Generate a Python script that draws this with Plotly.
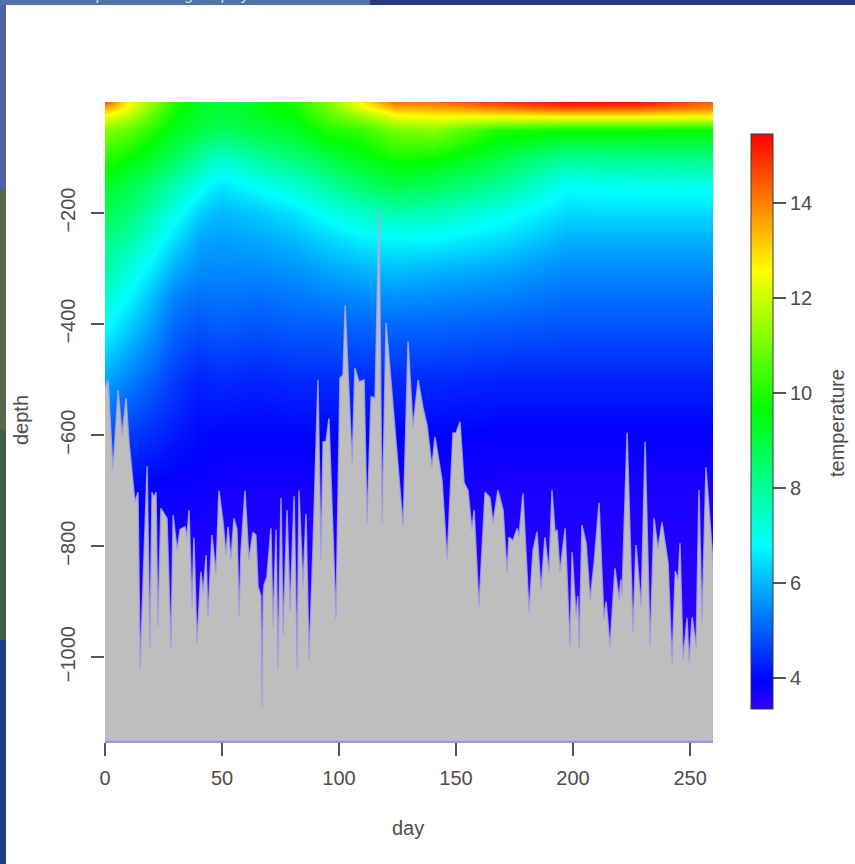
import plotly.graph_objects as go

# temperature field
grid_days = [0, 10, 20, 30, 40, 45, 50, 57, 65, 81, 95, 110, 124, 140, 169, 197, 226, 260]
grid_depths = [0, -10, -25, -50, -100, -150, -200, -250, -300, -350, -400, -500, -600, -700, -900, -1151]
temp_d0 = [14.5, 13.5, 12.5, 11.2, 10.2, 9.3, 8.8, 8.2, 7.8, 7.3, 6.9, 5.8, 4.9, 4.3, 3.6, 3.35]
temp_d10 = [12.6, 12.4, 11.8, 10.8, 9.7, 8.9, 8.4, 7.8, 7.2, 6.8, 6.3, 5.4, 4.6, 4.0, 3.5, 3.35]
temp_d20 = [11.3, 11.1, 10.7, 10.1, 9.2, 8.4, 7.7, 7.1, 6.6, 6.1, 5.7, 5.0, 4.4, 3.9, 3.5, 3.35]
temp_d30 = [10.0, 9.9, 9.7, 9.4, 8.6, 7.7, 7.0, 6.4, 5.9, 5.4, 5.1, 4.6, 4.2, 3.8, 3.5, 3.35]
temp_d40 = [9.3, 9.3, 9.2, 9.0, 8.0, 7.0, 6.3, 5.8, 5.5, 5.2, 4.9, 4.3, 4.0, 3.8, 3.5, 3.35]
temp_d45 = [9.2, 9.2, 9.1, 8.8, 7.6, 6.7, 6.1, 5.75, 5.5, 5.25, 4.95, 4.35, 3.98, 3.75, 3.47, 3.35]
temp_d50 = [9.1, 9.1, 9.0, 8.7, 7.4, 6.55, 6.0, 5.7, 5.5, 5.25, 5.0, 4.4, 3.95, 3.7, 3.45, 3.35]
temp_d57 = [9.2, 9.2, 9.1, 8.8, 7.6, 6.7, 6.1, 5.75, 5.5, 5.25, 4.95, 4.35, 3.95, 3.7, 3.45, 3.35]
temp_d65 = [9.4, 9.4, 9.3, 9.0, 7.9, 6.9, 6.2, 5.8, 5.5, 5.2, 4.9, 4.3, 3.95, 3.7, 3.45, 3.35]
temp_d81 = [10.0, 9.9, 9.7, 9.3, 8.3, 7.3, 6.5, 6.0, 5.6, 5.3, 5.0, 4.4, 3.95, 3.7, 3.45, 3.35]
temp_d95 = [11.0, 10.9, 10.6, 10.0, 8.9, 7.9, 6.95, 6.3, 5.8, 5.4, 5.0, 4.4, 3.95, 3.7, 3.45, 3.35]
temp_d110 = [12.7, 12.3, 11.4, 10.3, 9.4, 8.5, 7.4, 6.6, 6.0, 5.5, 5.1, 4.4, 3.95, 3.7, 3.45, 3.35]
temp_d124 = [14.2, 13.4, 12.4, 11.0, 9.9, 8.9, 7.7, 6.7, 6.1, 5.6, 5.1, 4.4, 3.95, 3.7, 3.45, 3.35]
temp_d140 = [14.2, 13.5, 12.6, 11.2, 9.8, 8.7, 7.6, 6.7, 6.0, 5.5, 5.1, 4.4, 3.95, 3.7, 3.45, 3.35]
temp_d169 = [14.8, 14.0, 12.6, 10.0, 8.9, 8.0, 7.0, 6.4, 5.8, 5.4, 5.0, 4.3, 3.9, 3.65, 3.45, 3.35]
temp_d197 = [15.3, 14.5, 12.7, 9.8, 8.0, 6.9, 6.4, 5.9, 5.5, 5.2, 4.9, 4.3, 3.9, 3.65, 3.45, 3.35]
temp_d226 = [15.3, 14.4, 12.7, 9.8, 8.1, 7.0, 6.4, 5.9, 5.5, 5.2, 4.9, 4.3, 3.9, 3.65, 3.45, 3.35]
temp_d260 = [14.3, 13.9, 12.6, 9.7, 8.2, 7.0, 6.4, 5.9, 5.5, 5.2, 4.9, 4.3, 3.9, 3.65, 3.45, 3.35]

# sea floor / deepest-sample outline
floor_days = [0, 1.3, 3.4, 5.6, 7.3, 9, 10.3, 12.8, 14.1, 15, 18, 19.2, 20.1, 20.9, 21.8, 22.6, 23.9, 26.5, 28.2, 29.1,
              30.8, 32.1, 34.2, 35, 35.9, 37.2, 38, 39.3, 41, 41.9, 43.2, 44, 45.7, 47.4, 48.7, 50.4, 51.7, 52.6, 53.8,
              55.1, 56.4, 57.3, 58.1, 59.8, 61.5, 63.2, 64.5, 65.4, 66.6, 67.1, 67.6, 68.0, 69.2, 70.9, 71.8, 73.1,
              73.9, 75.2, 76.1, 77.8,
              79.1, 80.8, 82.1, 82.9, 84.6, 85.9, 87.2, 88.9, 91, 92.3, 93.2, 94.4, 95.7, 98.7, 100.4, 101.7, 102.6,
              105.6, 106.8, 108.5, 110.7, 112, 113.7, 115.4, 117.1, 118.4, 120.1, 127.4, 129.5, 131.6, 133.8, 135.9,
              137.6, 139.7, 141, 144, 146.2, 148.7, 150, 151.7, 153.4, 155.1, 156.8, 157.7, 159.8, 162.4, 164.5, 165.8,
              167.9, 170.1, 171.8, 172.6, 174.4, 176.1, 176.9, 178.6, 181.2, 182.9, 184.6, 186.3, 188, 189.7, 191,
              192.3, 193.2, 194.4, 196.6, 198.7, 199.6, 201.3, 202, 202.6, 203.8, 205.6, 207.3, 209, 211.1, 213.2,
              214.1, 215.8, 217.9, 219.7, 220.4, 220.9, 223.1, 225.6, 226.9, 229.1, 230.8, 232.9, 234.6, 236.3, 238,
              240.6, 242.3, 243.7, 244.9, 245.7, 247, 248.7, 249.6, 250.9, 252.6, 253.8, 255.1, 256.8, 259.8]
floor_depths = [-515, -501, -663, -519, -600, -533, -615, -720, -703, -1023, -656, -987, -703, -712, -703, -945, -732,
                -750, -987, -744, -807, -770, -765, -785, -735, -910, -785, -975, -846, -885, -816, -928, -780, -850,
                -700, -755, -816, -765, -825, -750, -770, -928, -810, -700, -825, -775, -780, -873, -890, -1090, -890,
                -870, -855, -768, -945,
                -770, -1023, -713, -960, -735, -920, -710, -1023, -700, -873, -742, -1005, -800, -501, -825, -612, -612,
                -570, -933, -497, -492, -366, -650, -479, -504, -501, -759, -531, -533, -195, -759, -398, -765, -432,
                -585, -501, -551, -582, -657, -603, -681, -825, -596, -596, -576, -685, -700, -771, -735, -910, -703,
                -712, -759, -699, -735, -849, -784, -790, -768, -783, -705, -919, -808, -774, -880, -784, -849, -699,
                -775, -771, -847, -768, -982, -811, -928, -890, -987, -762, -795, -897, -831, -722, -933, -900, -982,
                -840, -897, -860, -890, -596, -957, -798, -910, -612, -982, -750, -805, -757, -830, -1011, -845, -860,
                -795, -1005, -930, -1011, -928, -982, -699, -939, -658, -830]

x_ticks = [0, 50, 100, 150, 200, 250]
y_ticks = [-200, -400, -600, -800, -1000]
cbar_ticks = [4, 6, 8, 10, 12, 14]
z_min, z_max = 3.35, 15.45
x_max, y_min = 259.8, -1151

rows_by_day = [temp_d0, temp_d10, temp_d20, temp_d30, temp_d40, temp_d45, temp_d50, temp_d57, temp_d65, temp_d81,
               temp_d95, temp_d110, temp_d124, temp_d140, temp_d169, temp_d197, temp_d226, temp_d260]
z = [[col[i] for col in rows_by_day] for i in range(len(grid_depths))]

W, H = 855, 864
TXT = "#4d4d4d"
FONT = "Liberation Sans, Arial, sans-serif"
FS = 20
rainbow = [[0, "#3300ff"], [0.0476, "#0000ff"], [0.2857, "#00ffff"], [0.5238, "#00ff00"], [0.7619, "#ffff00"], [1, "#ff0000"]]

fig = go.Figure()
fig.add_trace(go.Heatmap(
    x=grid_days, y=grid_depths, z=z, zmin=z_min, zmax=z_max, zsmooth="best", colorscale=rainbow,
    colorbar=dict(
        x=751 / W, xanchor="left", xpad=0, y=1 - 134 / H, yanchor="top", ypad=0,
        lenmode="pixels", len=575, thicknessmode="pixels", thickness=22,
        outlinecolor="#3a3a3a", outlinewidth=1, borderwidth=0,
        tickmode="array", tickvals=cbar_ticks, ticks="outside", ticklen=13, tickcolor="#555555", tickwidth=1.5,
        tickprefix="\u00a0\u00a0",
        tickfont=dict(family=FONT, size=FS, color=TXT),
    ),
))
fig.add_trace(go.Scatter(
    x=floor_days + [x_max, 0], y=floor_depths + [y_min, y_min],
    mode="lines", fill="toself", fillcolor="#bebebe",
    line=dict(color="rgba(172,168,220,0.8)", width=1.5), hoverinfo="skip", showlegend=False,
))

fig.update_layout(
    width=W, height=H, margin=dict(l=0, r=0, t=0, b=0, autoexpand=False),
    paper_bgcolor="#ffffff", plot_bgcolor="#ffffff", showlegend=False,
    font=dict(family=FONT, color=TXT),
    xaxis=dict(domain=[105 / W, 713 / W], range=[0, x_max], tickmode="array", tickvals=x_ticks,
               ticks="outside", ticklen=13, tickwidth=1.5, tickcolor="#555555",
               showline=True, linecolor="#9a96e4", linewidth=2, showgrid=False, zeroline=False,
               tickfont=dict(size=FS, color=TXT), ticklabelstandoff=5),
    yaxis=dict(domain=[1 - 741 / H, 1 - 102 / H], range=[y_min, 0], tickmode="array", tickvals=y_ticks,
               ticks="outside", ticklen=13, tickwidth=1.5, tickcolor="#555555", tickangle=-90,
               showline=False, showgrid=False, zeroline=False,
               tickfont=dict(size=FS, color=TXT), ticklabelstandoff=8),
    annotations=[
        dict(text="day", xref="paper", yref="paper", x=408 / W, y=1 - 828 / H, xanchor="center", yanchor="middle",
             showarrow=False, font=dict(size=FS, color=TXT)),
        dict(text="depth", xref="paper", yref="paper", x=21 / W, y=1 - 420 / H, xanchor="center", yanchor="middle",
             showarrow=False, textangle=-90, font=dict(size=FS, color=TXT)),
        dict(text="temperature", xref="paper", yref="paper", x=837 / W, y=1 - 423 / H, xanchor="center", yanchor="middle",
             showarrow=False, textangle=-90, font=dict(size=FS, color=TXT)),
        dict(text="<i>Southern Elephant Seal tags deployed in 2014</i>", xref="paper", yref="paper",
             x=8 / W, y=1 - 5 / H, xanchor="left", yanchor="bottom", showarrow=False,
             font=dict(size=15, color="#dfe8f5")),
    ],
    shapes=[
        dict(type="rect", xref="paper", yref="paper", x0=0, x1=6 / W, y0=1 - 190 / H, y1=1, fillcolor="#4c62a2", line_width=0, layer="below"),
        dict(type="rect", xref="paper", yref="paper", x0=0, x1=6 / W, y0=1 - 430 / H, y1=1 - 190 / H, fillcolor="#56684c", line_width=0, layer="below"),
        dict(type="rect", xref="paper", yref="paper", x0=0, x1=6 / W, y0=1 - 640 / H, y1=1 - 430 / H, fillcolor="#3d5f42", line_width=0, layer="below"),
        dict(type="rect", xref="paper", yref="paper", x0=0, x1=6 / W, y0=0, y1=1 - 640 / H, fillcolor="#223d86", line_width=0, layer="below"),
        dict(type="rect", xref="paper", yref="paper", x0=0, x1=370 / W, y0=1 - 5 / H, y1=1, fillcolor="#5273a8", line_width=0, layer="below"),
        dict(type="rect", xref="paper", yref="paper", x0=370 / W, x1=1, y0=1 - 5 / H, y1=1, fillcolor="#2a3a80", line_width=0, layer="below"),
    ],
)

fig.write_html("out.html", config={"displayModeBar": False},
               post_script="document.body.style.margin='0';document.body.style.overflow='hidden';")
